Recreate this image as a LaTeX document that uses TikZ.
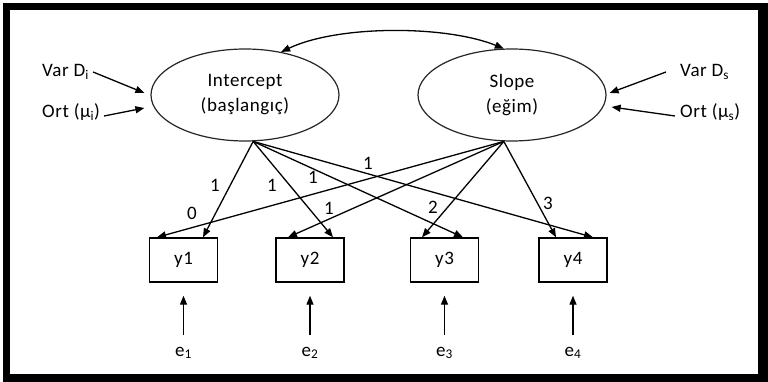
\documentclass[tikz,border=0pt]{standalone}
\usepackage{fontspec}
\setmainfont{Carlito}[LetterSpace=3]
\usetikzlibrary{arrows.meta,shapes.geometric,calc}
\begin{document}
\begin{tikzpicture}[x=1pt,y=-1pt,
  lbl/.style={font=\fontsize{19}{22}\selectfont, inner sep=0pt},
  lat/.style={ellipse, draw=black!85, line width=1.2pt, minimum width=188pt, minimum height=92pt, inner sep=0pt, align=center, font=\fontsize{19}{25}\selectfont},
  obs/.style={rectangle, draw, line width=1.4pt, minimum width=68pt, minimum height=44pt, inner sep=0pt, font=\fontsize{19}{22}\selectfont},
  arr/.style={line width=1.3pt, -{Triangle[length=9pt,width=7pt]}},
  darr/.style={line width=1.3pt, {Triangle[length=9pt,width=7pt]}-{Triangle[length=9pt,width=7pt]}},
]
\useasboundingbox (0,0) rectangle (768,382);
\fill (3,3) rectangle (768,382);
\fill[white] (10,10) rectangle (758,374);
% latent variables
\node[lat] (I) at (245,95) {Intercept\\(başlangıç)};
\node[lat] (S) at (512,95) {Slope\\(eğim)};
% observed
\node[obs] (y1) at (183.5,260) {y1};
\node[obs] (y2) at (310,260) {y2};
\node[obs] (y3) at (444.5,260) {y3};
\node[obs] (y4) at (573,260) {y4};
% errors
\node[lbl] (e1) at (183.5,353) {e\textsubscript{1}};
\node[lbl] (e2) at (310,353) {e\textsubscript{2}};
\node[lbl] (e3) at (444.5,353) {e\textsubscript{3}};
\node[lbl] (e4) at (573,353) {e\textsubscript{4}};
\foreach \k in {1,2,3,4}{
  \draw[arr, shorten >=13pt] ([yshift=12pt]e\k.north) -- (y\k.south);
}
% side labels
\node[lbl, anchor=west] (vdi) at (42,72) {Var D\textsubscript{i}};
\node[lbl, anchor=west] (orti) at (42,112) {Ort (μ\textsubscript{i})};
\node[lbl, anchor=west] (vds) at (680,72) {Var D\textsubscript{s}};
\node[lbl, anchor=west] (orts) at (680,112) {Ort (μ\textsubscript{s})};
\draw[arr] ([xshift=4pt]vdi.east) -- ([xshift=-6pt,yshift=2pt]I.west);
\draw[arr] ([xshift=4pt,yshift=-4pt]orti.east) -- ([xshift=-6pt,yshift=-13pt]I.west);
\draw[arr] ([xshift=-14pt]vds.west) -- ([xshift=3pt,yshift=2pt]S.east);
\draw[arr] ([xshift=-5pt,yshift=-4pt]orts.west) -- ([xshift=5pt,yshift=-12pt]S.east);
% covariance
\draw[darr] (I.50) .. controls (338,25) and (445,25) .. (S.100);
% loadings
\draw[arr] (I.-80) -- ([xshift=19.5pt]y1.north);
\draw[arr] (I.-80) -- ([xshift=23pt]y2.north);
\draw[arr] (I.-80) -- ([xshift=18.5pt]y3.north);
\draw[arr] (I.-80) -- ([xshift=20pt]y4.north);
\draw[arr] (S.-100) -- ([xshift=-26.5pt]y1.north);
\draw[arr] (S.-100) -- ([xshift=-22pt]y2.north);
\draw[arr] (S.-100) -- ([xshift=-22.5pt]y3.north);
\draw[arr] (S.-100) -- ([xshift=-17pt]y4.north);
% loading labels
\node[lbl] (li1) at (215,185) {1};
\node[lbl] (li2) at (272,185) {1};
\node[lbl] (li3) at (313,177) {1};
\node[lbl] (li4) at (368,163) {1};
\node[lbl] (ls1) at (192,213) {0};
\node[lbl] (ls2) at (329,208) {1};
\node[lbl] (ls3) at (433,207) {2};
\node[lbl] (ls4) at (548,203) {3};
\end{tikzpicture}
\end{document}
